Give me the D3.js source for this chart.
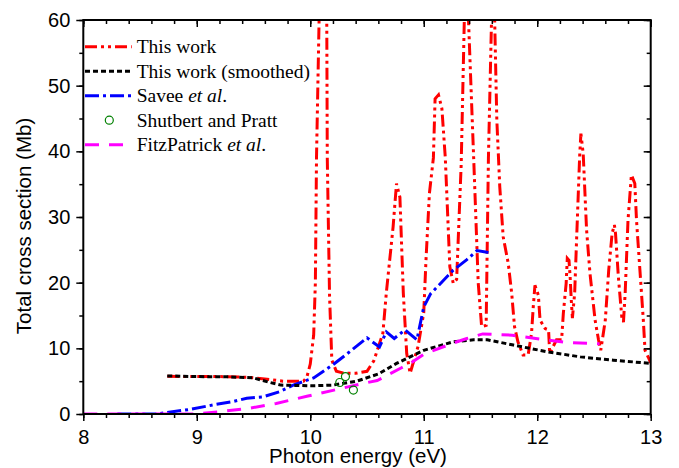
<!DOCTYPE html>
<html lang="en">
<head>
<meta charset="utf-8">
<title>Total cross section vs photon energy</title>
<script src="https://d3js.org/d3.v7.min.js"></script>
<style>
  body { margin: 0; background: #fff; }
  svg { display: block; }
  .axis-title { font-family: Arial, "Liberation Sans", Helvetica, sans-serif; font-size: 20.5px; }
  .legend text { font-family: "Times New Roman", "Liberation Serif", serif; font-size: 19.5px; }
</style>
</head>
<body>
<svg id="chart" width="679" height="468"></svg>
<script>
// ---- data ----
var xTicks = [8, 9, 10, 11, 12, 13];
var yTicks = [0, 10, 20, 30, 40, 50, 60];

// This work (raw calculation), energy in eV, cross section in Mb
var thisWork = [
  [8.74,5.75],[9.0,5.7],[9.2,5.7],[9.44,5.6],[9.62,5.3],[9.76,5.0],[9.94,5.0],[9.97,5.6],
  [10.0,7.6],[10.03,12],[10.045,20],[10.055,39],[10.08,62],[10.11,80],[10.145,62],[10.15,39],
  [10.17,18],[10.19,8.2],[10.23,6.5],[10.3,6.2],[10.4,6.2],[10.5,6.5],[10.56,8.1],[10.6,10.2],
  [10.64,12.3],[10.67,18.4],[10.73,28.5],[10.76,35.1],[10.79,33],[10.82,18.4],[10.85,9.2],
  [10.88,6.2],[10.95,10.3],[11.0,15.4],[11.02,23.5],[11.05,33.6],[11.085,39],[11.10,48],
  [11.13,48.6],[11.16,46.5],[11.19,39],[11.23,22.4],[11.26,19.9],[11.29,20.5],[11.33,38],
  [11.36,62],[11.375,80],[11.39,62],[11.44,39],[11.48,20],[11.51,13.3],[11.55,13.5],[11.57,39],
  [11.60,62],[11.61,80],[11.625,60],[11.644,44.8],[11.67,34.6],[11.70,27.0],[11.745,22.9],
  [11.775,18.4],[11.80,13.3],[11.83,11.0],[11.875,9.0],[11.92,9.0],[11.95,12.3],[11.965,16.3],
  [11.98,19.6],[12.01,18.1],[12.025,14.3],[12.07,13.0],[12.10,12.8],[12.11,9.2],[12.17,11.3],
  [12.215,11.3],[12.23,15.3],[12.255,19.9],[12.265,23.7],[12.28,23.4],[12.29,20.9],[12.30,17.4],
  [12.31,14.6],[12.33,18.4],[12.35,28.0],[12.375,39.7],[12.385,42.7],[12.405,39.7],[12.435,28.0],
  [12.465,21.4],[12.51,14.3],[12.54,11.3],[12.56,9.7],[12.60,14.3],[12.63,21.9],[12.66,27.5],
  [12.68,28.8],[12.69,27.5],[12.715,20.9],[12.745,14.8],[12.76,14.0],[12.775,18.4],[12.80,29.5],
  [12.83,36.4],[12.86,35.1],[12.875,29.5],[12.905,21.9],[12.935,14.3],[12.95,9.7],[12.98,8.6],
  [13.0,7.8]
];

// This work (smoothed)
var thisWorkSmoothed = [
  [8.74,5.8],[9.0,5.7],[9.3,5.65],[9.5,5.5],[9.645,4.8],[9.74,4.4],[10.03,4.3],[10.2,4.4],
  [10.41,5.0],[10.6,6.1],[10.76,7.7],[11.0,9.7],[11.26,11.0],[11.44,11.3],[11.56,11.3],
  [11.79,10.5],[12.08,9.5],[12.38,8.7],[12.67,8.2],[13.0,7.7]
];

// Savee et al.
var savee = [
  [8.3,0],[8.65,0],[8.77,0.3],[8.94,0.7],[9.15,1.4],[9.32,1.9],[9.44,2.4],[9.58,2.6],[9.73,3.4],
  [9.85,4.4],[10.03,5.5],[10.2,7.5],[10.32,9.1],[10.5,11.6],[10.61,10.2],[10.67,12.5],[10.74,11.5],
  [10.835,12.8],[10.94,11.3],[11.0,16.3],[11.06,18.3],[11.26,21.9],[11.38,23.5],[11.47,24.9],
  [11.57,24.6]
];

// Shutbert and Pratt
var shutbert = [[10.26,4.8],[10.31,5.7],[10.38,3.65]];

// FitzPatrick et al.
var fitzPatrick = [
  [8.0,0],[9.0,0],[9.23,0.4],[9.47,0.9],[9.7,1.6],[9.97,2.7],[10.2,3.6],[10.45,4.6],[10.59,5.1],
  [10.8,7.0],[10.88,7.7],[11.0,9.1],[11.26,10.8],[11.38,11.5],[11.52,12.2],[11.78,12.0],
  [12.02,11.4],[12.25,10.9],[12.55,10.7]
];

var legendLabels = ["This work", "This work (smoothed)", "Savee", "Shutbert and Pratt", "FitzPatrick"];

// ---- layout ----
var svg = d3.select("#chart");
var plotL = 83.3, plotR = 650.7, plotT = 20, plotB = 414;

var x = d3.scaleLinear().domain([8, 13]).range([plotL, plotR]);
var y = d3.scaleLinear().domain([0, 60]).range([plotB, plotT]);

svg.append("clipPath").attr("id", "plotClip")
  .append("rect")
  .attr("x", plotL).attr("y", plotT)
  .attr("width", plotR - plotL).attr("height", plotB - plotT);

var line = d3.line().x(function(d) { return x(d[0]); }).y(function(d) { return y(d[1]); });

var plot = svg.append("g").attr("clip-path", "url(#plotClip)");

var series = [
  { data: thisWork, color: "#ff0000", dash: "12,4,3,4,3,4" },
  { data: savee, color: "#0000ff", dash: "14,4,3,4" },
  { data: thisWorkSmoothed, color: "#000000", dash: "5,3" },
  { data: fitzPatrick, color: "#ff00ff", dash: "14,10" }
];

series.forEach(function(s) {
  plot.append("path")
    .datum(s.data)
    .attr("d", line)
    .attr("fill", "none")
    .attr("stroke", s.color)
    .attr("stroke-width", 3)
    .attr("stroke-dasharray", s.dash);
});

plot.selectAll("circle.sp")
  .data(shutbert)
  .enter().append("circle")
  .attr("class", "sp")
  .attr("cx", function(d) { return x(d[0]); })
  .attr("cy", function(d) { return y(d[1]); })
  .attr("r", 4)
  .attr("fill", "none")
  .attr("stroke", "#008000")
  .attr("stroke-width", 1.2);

// ---- axes: bottom/left ticks outward, top/right mirrored inward ----
var xMinor = d3.range(8, 13.001, 0.2);
var yMinor = d3.range(0, 60.001, 5);

svg.append("g").attr("transform", "translate(0," + plotB + ")")
  .call(d3.axisBottom(x).tickValues(xMinor).tickSize(4).tickFormat(""));
svg.append("g").attr("class", "lab").attr("transform", "translate(0," + plotB + ")")
  .call(d3.axisBottom(x).tickValues(xTicks).tickSize(7).tickPadding(9).tickFormat(d3.format("d")));

svg.append("g").attr("transform", "translate(" + plotL + ",0)")
  .call(d3.axisLeft(y).tickValues(yMinor).tickSize(4).tickFormat(""));
svg.append("g").attr("class", "lab").attr("transform", "translate(" + plotL + ",0)")
  .call(d3.axisLeft(y).tickValues(yTicks).tickSize(7).tickPadding(6).tickFormat(d3.format("d")));

svg.append("g").attr("transform", "translate(0," + plotT + ")")
  .call(d3.axisBottom(x).tickValues(xMinor).tickSize(4).tickFormat(""));
svg.append("g").attr("transform", "translate(0," + plotT + ")")
  .call(d3.axisBottom(x).tickValues(xTicks).tickSize(7).tickFormat(""));

svg.append("g").attr("transform", "translate(" + plotR + ",0)")
  .call(d3.axisLeft(y).tickValues(yMinor).tickSize(4).tickFormat(""));
svg.append("g").attr("transform", "translate(" + plotR + ",0)")
  .call(d3.axisLeft(y).tickValues(yTicks).tickSize(7).tickFormat(""));

svg.selectAll(".domain").remove();
svg.selectAll(".tick line").attr("stroke", "#000").attr("stroke-width", 1.5);
svg.selectAll(".lab .tick text").attr("fill", "#000")
  .style("font-family", "Arial, 'Liberation Sans', sans-serif").style("font-size", "20px");

svg.append("rect")
  .attr("x", plotL).attr("y", plotT)
  .attr("width", plotR - plotL).attr("height", plotB - plotT)
  .attr("fill", "none").attr("stroke", "#000").attr("stroke-width", 2);

// axis titles
svg.append("text").attr("class", "axis-title")
  .attr("x", 358).attr("y", 463)
  .attr("text-anchor", "middle")
  .text("Photon energy (eV)");

svg.append("text").attr("class", "axis-title")
  .attr("transform", "translate(31,226) rotate(-90)")
  .attr("text-anchor", "middle")
  .text("Total cross section (Mb)");

// ---- legend ----
var legend = svg.append("g").attr("class", "legend");
var ly = d3.scalePoint().domain(legendLabels).range([46.7, 144.7]);
var lx0 = 85, lx1 = 131.7, tx = 136.7;

[[legendLabels[0], "#ff0000", "12,4,3,4,3,4"],
 [legendLabels[1], "#000000", "5,3"],
 [legendLabels[2], "#0000ff", "14,4,3,4"],
 [legendLabels[4], "#ff00ff", "14,10"]].forEach(function(d) {
  legend.append("line")
    .attr("x1", lx0).attr("x2", lx1)
    .attr("y1", ly(d[0])).attr("y2", ly(d[0]))
    .attr("stroke", d[1]).attr("stroke-width", 3)
    .attr("stroke-dasharray", d[2]);
});

legend.append("circle")
  .attr("cx", 109.3).attr("cy", ly(legendLabels[3]))
  .attr("r", 4).attr("fill", "none")
  .attr("stroke", "#008000").attr("stroke-width", 1.2);

function legendText(label, italicTail, tail) {
  var t = legend.append("text").attr("x", tx).attr("y", ly(label) + 6.5);
  t.append("tspan").text(label);
  if (italicTail) {
    t.append("tspan").text(" ");
    t.append("tspan").attr("font-style", "italic").text(italicTail);
    t.append("tspan").text(tail);
  }
}
legendText(legendLabels[0]);
legendText(legendLabels[1]);
legendText(legendLabels[2], "et al", ".");
legendText(legendLabels[3]);
legendText(legendLabels[4], "et al", ".");
</script>
</body>
</html>
